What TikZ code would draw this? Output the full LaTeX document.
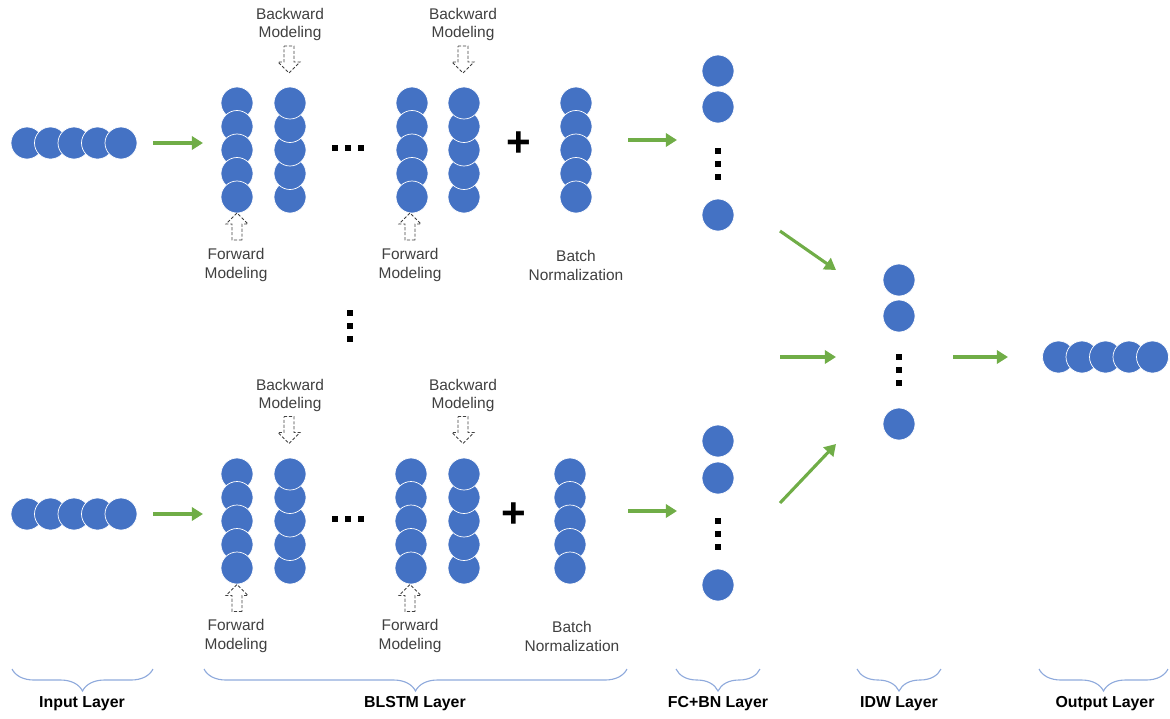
\documentclass[tikz,border=0pt]{standalone}
\usepackage{fontspec}
\setmainfont{Liberation Sans}
\usepackage{tikz}
\usetikzlibrary{arrows.meta,decorations.pathreplacing}

\definecolor{unitblue}{HTML}{4472C4}
\definecolor{flowgreen}{HTML}{70AD47}
\definecolor{braceblue}{HTML}{8FAADC}
\definecolor{notegray}{HTML}{404040}

\begin{document}
\begin{tikzpicture}
  [x=0.025cm,y=-0.025cm,
   unit/.style={circle,fill=unitblue,draw=white,line width=0.5pt,minimum size=0.8cm,inner sep=0pt},
   flow/.style={flowgreen,line width=2.2pt,-{Triangle[length=8pt,width=9.5pt]}},
   dotsq/.style={rectangle,fill=black,minimum size=4pt,inner sep=0pt},
   note/.style={align=center,text=notegray,font=\fontsize{11}{13.5}\selectfont},
   layername/.style={font=\fontsize{11.3}{13}\selectfont\bfseries},
   layerbrace/.style={braceblue,line width=0.8pt,decorate,decoration={brace,mirror,amplitude=0.55cm}},
   hollowdown/.pic={\draw[notegray,line width=0.6pt,dash pattern=on 2.2pt off 1.3pt]
     (-5,-13.5) -- (5,-13.5) -- (5,2.5) -- (11,2.5) -- (0,13.5) -- (-11,2.5) -- (-5,2.5) -- cycle;}]

    \useasboundingbox (0,0) rectangle (1170,718);

    % input layer (top and bottom branch)
    \foreach \i/\x in {1/27,2/50.5,3/74,4/97.5,5/121} {
      \node[unit] (tin\i) at (\x,143) {};
      \node[unit] (bin\i) at (\x,514) {};
    }

    % BLSTM stacks, forward columns and batch norm
    \foreach \j/\y in {1/103,2/126.5,3/150,4/173.5,5/197} {
      \node[unit] (tfa\j) at (237,\y) {};
      \node[unit] (tfb\j) at (412,\y) {};
      \node[unit] (tbn\j) at (576,\y) {};
      \node[unit] (bfa\j) at (237,\y+371) {};
      \node[unit] (bfb\j) at (411,\y+371) {};
      \node[unit] (bbn\j) at (570,\y+371) {};
    }
    % backward columns
    \foreach \j/\y in {5/197,4/173.5,3/150,2/126.5,1/103} {
      \node[unit] (tba\j) at (290,\y) {};
      \node[unit] (tbb\j) at (464,\y) {};
      \node[unit] (bba\j) at (290,\y+371) {};
      \node[unit] (bbb\j) at (464,\y+371) {};
    }

    % FC+BN layer
    \node[unit] (tfc1) at (718,71)  {};
    \node[unit] (tfc2) at (718,107) {};
    \node[unit] (tfc3) at (718,215) {};
    \node[unit] (bfc1) at (718,441) {};
    \node[unit] (bfc2) at (718,478) {};
    \node[unit] (bfc3) at (718,585) {};

    % IDW layer
    \node[unit] (idw1) at (899,280) {};
    \node[unit] (idw2) at (899,316) {};
    \node[unit] (idw3) at (899,424) {};

    % output layer
    \foreach \i/\x in {1/1058.5,2/1082,3/1105.5,4/1129,5/1152.5}
      \node[unit] (out\i) at (\x,357) {};

    % dots
    \foreach \k/\x in {1/335,2/348,3/361} {
      \node[dotsq] (thd\k) at (\x,148) {};
      \node[dotsq] (bhd\k) at (\x,519) {};
    }
    \foreach \k/\y in {1/0,2/13,3/26} {
      \node[dotsq] (mvd\k) at (350,313+\y) {};
      \node[dotsq] (tvd\k) at (718,151+\y) {};
      \node[dotsq] (bvd\k) at (718,521+\y) {};
      \node[dotsq] (ivd\k) at (899,357+\y) {};
    }

    \node[font=\fontsize{30}{30}\selectfont\bfseries] (tplus) at (519,144) {+};
    \node[font=\fontsize{30}{30}\selectfont\bfseries] (bplus) at (514,515) {+};

    % labels of the stacks
    \node[note] (tbw1) at (290,24.5)  {Backward\\Modeling};
    \node[note] (tbw2) at (463,24.5)  {Backward\\Modeling};
    \node[note] (tfw1) at (236,265)   {Forward\\Modeling};
    \node[note] (tfw2) at (410,265)   {Forward\\Modeling};
    \node[note] (tbnl) at (576,265)   {Batch\\Normalization};
    \node[note] (bbw1) at (290,395.5) {Backward\\Modeling};
    \node[note] (bbw2) at (463,395.5) {Backward\\Modeling};
    \node[note] (bfw1) at (236,636)   {Forward\\Modeling};
    \node[note] (bfw2) at (410,636)   {Forward\\Modeling};
    \node[note] (bbnl) at (572,636)   {Batch\\Normalization};

    % hollow dashed arrows
    \pic (tdn1) at (289,59.5) {hollowdown};
    \pic (tdn2) at (463,59.5) {hollowdown};
    \pic[rotate=180] (tup1) at (237,226.5) {hollowdown};
    \pic[rotate=180] (tup2) at (410,226.5) {hollowdown};
    \pic (bdn1) at (289,430) {hollowdown};
    \pic (bdn2) at (463,430) {hollowdown};
    \pic[rotate=180] (bup1) at (237,598) {hollowdown};
    \pic[rotate=180] (bup2) at (410,598) {hollowdown};

    % green arrows
    \coordinate (ta1) at (153,143);  \coordinate (ta2) at (203,143);
    \coordinate (tb1) at (628,140);  \coordinate (tb2) at (677,140);
    \coordinate (ba1) at (153,514);  \coordinate (ba2) at (203,514);
    \coordinate (bb1) at (628,511);  \coordinate (bb2) at (677,511);
    \coordinate (da1) at (780,231);  \coordinate (da2) at (836,270);
    \coordinate (ma1) at (780,357);  \coordinate (ma2) at (836,357);
    \coordinate (ua1) at (780,503);  \coordinate (ua2) at (836,444);
    \coordinate (oa1) at (953,357);  \coordinate (oa2) at (1008,357);

    \draw[flow] (ta1) -- (ta2);
    \draw[flow] (tb1) -- (tb2);
    \draw[flow] (ba1) -- (ba2);
    \draw[flow] (bb1) -- (bb2);
    \draw[flow] (da1) -- (da2);
    \draw[flow] (ma1) -- (ma2);
    \draw[flow] (ua1) -- (ua2);
    \draw[flow] (oa1) -- (oa2);

    % braces and layer names
    \draw[layerbrace] (12,669) -- (153,669);
    \draw[layerbrace] (204,669) -- (627,669);
    \draw[layerbrace] (676,669) -- (760,669);
    \draw[layerbrace] (857,669) -- (941,669);
    \draw[layerbrace] (1039,669) -- (1168,669);

    \node[layername] (inl)  at (82,704)   {Input Layer};
    \node[layername] (bll)  at (415,704)  {BLSTM Layer};
    \node[layername] (fcl)  at (718,704)  {FC+BN Layer};
    \node[layername] (idwl) at (899,704)  {IDW Layer};
    \node[layername] (outl) at (1105,704) {Output Layer};

\end{tikzpicture}
\end{document}
